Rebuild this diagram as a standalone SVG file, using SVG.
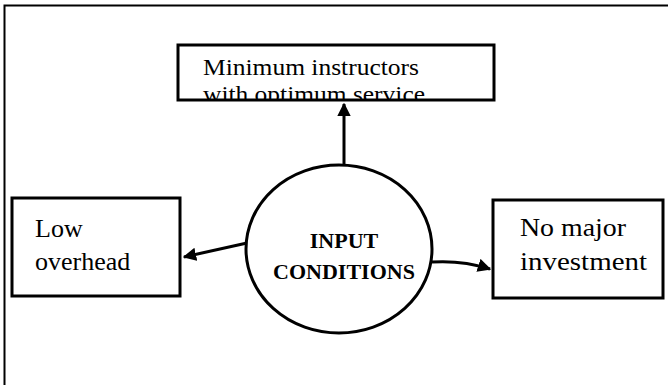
<svg xmlns="http://www.w3.org/2000/svg" width="668" height="385" viewBox="0 0 668 385">
<style>
.box{fill:#fff;stroke:#000;stroke-width:3}
text{font-family:"Liberation Serif","Times New Roman",serif;fill:#000}
.t{font-size:26px}
.s{font-size:24px}
.b{font-size:22px;font-weight:bold}
.c{fill:none;stroke:#000;stroke-width:3}
</style>
<defs>
<marker id="ah" viewBox="0 0 10 10" refX="9" refY="5" markerWidth="4.5" markerHeight="4.5" orient="auto" markerUnits="strokeWidth">
<path d="M0,0 L10,5 L0,10 z" fill="#000"/>
</marker>
<clipPath id="topclip"><rect x="178" y="45" width="316" height="54"/></clipPath>
</defs>
<g id="frame">
<path d="M4.5,385 V5.5 H668" fill="none" stroke="#000" stroke-width="2"/>
</g>
<g id="connectors">
<line class="c" x1="344" y1="182" x2="344" y2="104" marker-end="url(#ah)"/>
<line class="c" x1="247" y1="243" x2="184" y2="257" marker-end="url(#ah)"/>
<path class="c" d="M432,262 Q462,260 490,269" marker-end="url(#ah)"/>
</g>
<g id="top">
<rect class="box" x="178" y="45" width="316" height="55"/>
<g clip-path="url(#topclip)">
<text class="s" x="203" y="75" textLength="216" lengthAdjust="spacingAndGlyphs">Minimum instructors</text>
<text class="s" x="203" y="101.5" textLength="222" lengthAdjust="spacingAndGlyphs">with optimum service</text>
</g>
</g>
<g id="left">
<rect class="box" x="12" y="198" width="168" height="98"/>
<text class="t" x="35" y="237">Low</text>
<text class="t" x="35" y="270">overhead</text>
</g>
<g id="right">
<rect class="box" x="493" y="200" width="170" height="98"/>
<text class="t" x="520" y="236" textLength="106" lengthAdjust="spacingAndGlyphs">No major</text>
<text class="t" x="520" y="270" textLength="127" lengthAdjust="spacingAndGlyphs">investment</text>
</g>
<g id="center">
<ellipse cx="339" cy="249" rx="93" ry="84" fill="#fff" stroke="#000" stroke-width="3"/>
<text class="b" x="344" y="248" text-anchor="middle">INPUT</text>
<text class="b" x="344" y="279" text-anchor="middle">CONDITIONS</text>
</g>
</svg>
